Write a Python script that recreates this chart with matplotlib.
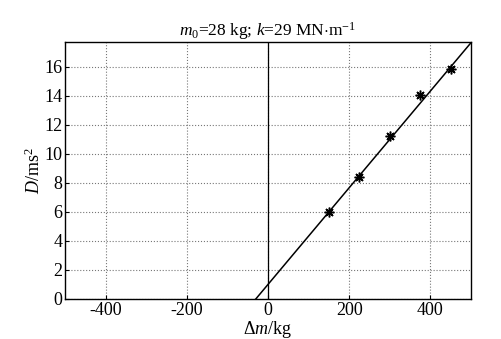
import matplotlib.pyplot as plt
import numpy as np

plt.rcParams['font.family'] = ['Liberation Serif', 'DejaVu Serif']
plt.rcParams['mathtext.fontset'] = 'custom'
plt.rcParams['mathtext.rm'] = 'Liberation Serif'
plt.rcParams['mathtext.it'] = 'Liberation Serif:italic'
plt.rcParams['axes.unicode_minus'] = False

# measured points
dm = [150, 225, 300, 375, 450]
D = [6.0, 8.4, 11.2, 14.05, 15.85]

# fitted line
slope = 0.0333
intercept = 1.0
fit_x = np.array([-500, 500])
fit_y = slope * fit_x + intercept

fig = plt.figure(figsize=(5.01, 3.39), dpi=100)
ax = fig.add_axes([0.1297, 0.118, 0.8103, 0.758])

ax.plot(fit_x, fit_y, color='black', lw=1.1)
ax.plot(dm, D, linestyle='none', marker=(8, 2, 0), markersize=7,
        markeredgewidth=1.1, color='black')
ax.axvline(0, color='black', lw=0.9)

ax.set_xlim(-500, 500)
ax.set_ylim(0, 17.7)
ax.set_xticks([-400, -200, 0, 200, 400])
ax.set_yticks(range(0, 17, 2))
ax.grid(True, linestyle=':', color='#777777', lw=0.8)
ax.tick_params(direction='in', length=3, labelsize=13, width=0.8, pad=2)
for s in ax.spines.values():
    s.set_linewidth(1.0)

ax.set_xlabel(r'$\Delta m$/kg', fontsize=13, labelpad=0)
ax.set_ylabel(r'$D$/ms$^2$', fontsize=13, labelpad=0)
ax.set_title(r'$m_0$=28 kg; $k$=29 MN$\cdot$m$^{-1}$', fontsize=12.5, pad=3)

fig.savefig('out.png', dpi=100)
